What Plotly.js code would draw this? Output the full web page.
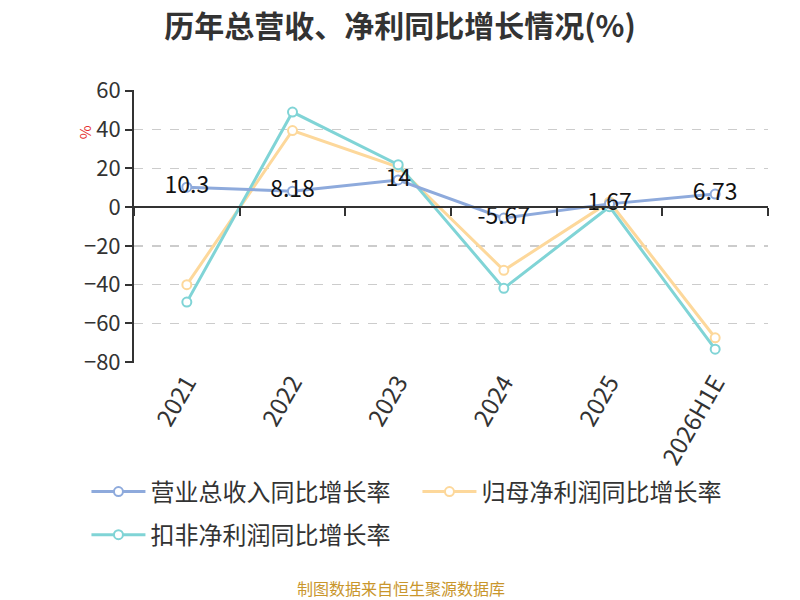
<!DOCTYPE html>
<html>
<head>
<meta charset="utf-8">
<script src="https://cdn.plot.ly/plotly-3.0.1.min.js"></script>
<style>html,body{margin:0;padding:0;background:#fff}#chart{width:800px;height:600px}</style>
</head>
<body>
<div id="chart"></div>
<script>
// chart data
var years = ['2021', '2022', '2023', '2024', '2025', '2026H1E'];
var revenueGrowth = [10.3, 8.18, 14, -5.67, 1.67, 6.73];      // 营业总收入同比增长率
var netProfitGrowth = [-40, 39.5, 20.7, -32.6, 2.7, -67.4];    // 归母净利润同比增长率
var deductedGrowth = [-49, 49, 21.9, -41.9, 0.2, -73.3];       // 扣非净利润同比增长率
var seriesNames = ['营业总收入同比增长率', '归母净利润同比增长率', '扣非净利润同比增长率'];

var font = '"Noto Sans CJK SC", "Noto Sans", sans-serif';
var colors = ['#8eaadc', '#fdd89b', '#80d4d6'];

function line(y, i, labels) {
  var t = {
    x: years, y: y, name: seriesNames[i], type: 'scatter',
    mode: labels ? 'lines+markers+text' : 'lines+markers',
    line: {color: colors[i], width: 3},
    marker: {size: 9, color: '#fff', line: {color: colors[i], width: 2}},
    cliponaxis: false, legendrank: i + 1
  };
  if (labels) {
    t.text = y.map(String);
    t.textposition = 'middle center';
    t.textfont = {size: 23, color: '#111', family: font};
  }
  return t;
}

var data = [
  line(netProfitGrowth, 1),
  line(deductedGrowth, 2),
  line(revenueGrowth, 0, true),
  // invisible trace so the label axis gets drawn
  {x: years, y: years.map(function () { return null; }), xaxis: 'x2', type: 'scatter',
   mode: 'markers', showlegend: false, hoverinfo: 'skip'}
];
data[1].legend = 'legend2'; // second legend row

var ymin = -80, ymax = 60;
var pad = 0.4; // keeps the edge grid lines visible

var legendBase = {orientation: 'h', x: -0.075, xanchor: 'left', yanchor: 'top',
                  font: {size: 24, color: '#333', family: font}, traceorder: 'normal',
                  itemwidth: 54, entrywidth: 262, entrywidthmode: 'pixels'};

var layout = {
  width: 800, height: 600,
  margin: {l: 134, r: 32, t: 90, b: 237},
  paper_bgcolor: '#fff', plot_bgcolor: '#fff',
  font: {family: font, color: '#333'},
  title: {text: '<b>历年总营收、净利同比增长情况(%)</b>', x: 0.5, xanchor: 'center',
          y: 0.956, yanchor: 'middle', font: {size: 30, color: '#333', family: font}},
  showlegend: true,
  legend: Object.assign({}, legendBase, {y: -0.39}),
  legend2: Object.assign({}, legendBase, {y: -0.548}),
  xaxis: {
    type: 'category', range: [-0.5, 5.5], anchor: 'free',
    position: (0 - ymin + pad) / (ymax - ymin + 2 * pad),
    showline: true, linecolor: '#333', linewidth: 2,
    ticks: 'outside', ticklen: 8, tickwidth: 2, tickcolor: '#333',
    tickson: 'boundaries', showticklabels: false, showgrid: false, zeroline: false
  },
  xaxis2: {
    type: 'category', range: [-0.5, 5.5], overlaying: 'x', anchor: 'y', side: 'bottom',
    showline: false, ticks: '', showgrid: false, zeroline: false,
    tickangle: -60, tickfont: {size: 24, color: '#333', family: font}
  },
  yaxis: {
    range: [ymin - pad, ymax + pad], dtick: 20, tick0: 0,
    showline: true, linecolor: '#333', linewidth: 2,
    ticks: 'outside', ticklen: 7, tickwidth: 2, tickcolor: '#333',
    showgrid: true, gridcolor: '#cccccc', griddash: 'dash', gridwidth: 1.5,
    zeroline: false, tickfont: {size: 22, color: '#333', family: font}
  },
  annotations: [
    {text: '%', xref: 'paper', yref: 'paper', x: -0.098, y: 0.88, showarrow: false,
     textangle: -90, font: {size: 15, color: '#e53333', family: font}},
    {text: '制图数据来自恒生聚源数据库', xref: 'paper', yref: 'paper', x: 0.421, y: -0.825,
     xanchor: 'center', yanchor: 'middle', showarrow: false,
     font: {size: 16, color: '#c9962c', family: font}}
  ]
};

Plotly.newPlot('chart', data, layout, {displayModeBar: false, staticPlot: true});
</script>
</body>
</html>
